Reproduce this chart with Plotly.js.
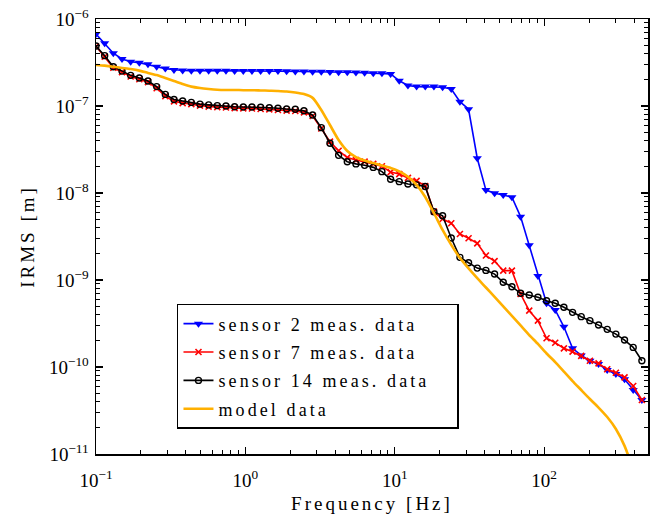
<!DOCTYPE html>
<html>
<head>
<meta charset="utf-8">
<script src="https://cdn.plot.ly/plotly-3.0.1.min.js"></script>
<style>
  html, body { margin: 0; padding: 0; background: #fff; }
  #chart { width: 667px; height: 521px; }
  .legendtext { letter-spacing: 3.1px; }
  .g-xtitle text, .g-ytitle text { letter-spacing: 3px; }
</style>
</head>
<body>
<div id="chart"></div>
<script>
// Frequencies [Hz] (log-spaced measurement points)
const freq = [0.1, 0.1143, 0.1306, 0.1493, 0.1706, 0.1950, 0.2228, 0.2547, 0.2911, 0.3327,
  0.3802, 0.4345, 0.4966, 0.5675, 0.6486, 0.7413, 0.8472, 0.9683, 1.1066, 1.2647,
  1.4454, 1.6520, 1.8880, 2.1577, 2.4660, 2.8184, 3.2211, 3.6813, 4.2073, 4.8084,
  5.4954, 6.2806, 7.1779, 8.2035, 9.3756, 10.715, 12.246, 13.996, 15.996, 18.281,
  20.893, 23.878, 27.290, 31.189, 35.645, 40.738, 46.559, 53.211, 60.814, 69.502,
  79.433, 90.782, 103.75, 118.58, 135.52, 154.88, 177.01, 202.30, 231.21, 264.24,
  302.00, 345.14, 394.46, 450.82];

const sensor2 = [6.73e-7, 5.26e-7, 4.04e-7, 3.47e-7, 3.23e-7, 3.15e-7, 3.01e-7, 2.83e-7, 2.69e-7, 2.60e-7,
  2.56e-7, 2.55e-7, 2.55e-7, 2.54e-7, 2.54e-7, 2.54e-7, 2.53e-7, 2.53e-7, 2.53e-7, 2.52e-7,
  2.52e-7, 2.52e-7, 2.51e-7, 2.50e-7, 2.50e-7, 2.48e-7, 2.48e-7, 2.46e-7, 2.45e-7, 2.44e-7,
  2.43e-7, 2.41e-7, 2.38e-7, 2.38e-7, 2.34e-7, 1.95e-7, 1.72e-7, 1.67e-7, 1.67e-7, 1.67e-7,
  1.64e-7, 1.57e-7, 1.12e-7, 9.17e-8, 2.51e-8, 1.08e-8, 9.93e-9, 9.48e-9, 8.93e-9, 5.35e-9,
  2.51e-9, 1.11e-9, 5.40e-10, 4.52e-10, 2.90e-10, 1.64e-10, 1.36e-10, 1.18e-10, 1.08e-10, 9.24e-11,
  8.31e-11, 7.22e-11, 5.44e-11, 4.18e-11];

const sensor7 = [4.85e-7, 3.70e-7, 2.75e-7, 2.45e-7, 2.18e-7, 2.03e-7, 1.88e-7, 1.60e-7, 1.30e-7, 1.13e-7,
  1.08e-7, 1.05e-7, 1.01e-7, 9.85e-8, 9.70e-8, 9.60e-8, 9.45e-8, 9.38e-8, 9.35e-8, 9.25e-8,
  9.15e-8, 9.00e-8, 8.85e-8, 8.75e-8, 8.45e-8, 7.67e-8, 5.51e-8, 3.89e-8, 3.06e-8, 2.55e-8,
  2.39e-8, 2.29e-8, 2.16e-8, 2.03e-8, 1.74e-8, 1.65e-8, 1.49e-8, 1.38e-8, 1.20e-8, 6.10e-9,
  5.02e-9, 4.49e-9, 3.38e-9, 3.02e-9, 2.64e-9, 1.91e-9, 1.65e-9, 1.28e-9, 1.28e-9, 6.90e-10,
  4.44e-10, 3.41e-10, 2.14e-10, 1.90e-10, 1.64e-10, 1.50e-10, 1.34e-10, 1.18e-10, 1.10e-10, 9.41e-11,
  8.60e-11, 7.61e-11, 6.05e-11, 4.18e-11];

const sensor14 = [4.90e-7, 3.79e-7, 2.83e-7, 2.52e-7, 2.25e-7, 2.10e-7, 1.94e-7, 1.67e-7, 1.36e-7, 1.19e-7,
  1.14e-7, 1.10e-7, 1.05e-7, 1.03e-7, 1.01e-7, 1.00e-7, 9.82e-8, 9.75e-8, 9.75e-8, 9.66e-8,
  9.56e-8, 9.41e-8, 9.24e-8, 9.17e-8, 8.83e-8, 7.88e-8, 5.64e-8, 3.73e-8, 2.71e-8, 2.29e-8,
  2.16e-8, 2.08e-8, 1.97e-8, 1.76e-8, 1.44e-8, 1.35e-8, 1.27e-8, 1.24e-8, 1.19e-8, 6.10e-9,
  5.48e-9, 3.04e-9, 1.82e-9, 1.58e-9, 1.37e-9, 1.29e-9, 1.17e-9, 9.41e-10, 8.38e-10, 7.03e-10,
  6.73e-10, 6.33e-10, 5.78e-10, 5.40e-10, 4.86e-10, 4.25e-10, 3.79e-10, 3.41e-10, 3.04e-10, 2.71e-10,
  2.39e-10, 2.04e-10, 1.68e-10, 1.18e-10];

const model = [2.96e-7, 2.91e-7, 2.83e-7, 2.74e-7, 2.66e-7, 2.55e-7, 2.40e-7, 2.27e-7, 2.10e-7, 1.94e-7,
  1.79e-7, 1.67e-7, 1.61e-7, 1.57e-7, 1.54e-7, 1.53e-7, 1.53e-7, 1.52e-7, 1.52e-7, 1.51e-7,
  1.50e-7, 1.49e-7, 1.47e-7, 1.43e-7, 1.37e-7, 1.24e-7, 9.0e-8, 6.05e-8, 4.06e-8, 3.04e-8,
  2.59e-8, 2.36e-8, 2.21e-8, 2.07e-8, 1.94e-8, 1.77e-8, 1.54e-8, 1.24e-8, 9.0e-9, 5.89e-9,
  3.76e-9, 2.53e-9, 1.79e-9, 1.36e-9, 1.05e-9, 8.20e-10, 6.38e-10, 4.96e-10, 3.86e-10, 3.00e-10,
  2.33e-10, 1.84e-10, 1.43e-10, 1.14e-10, 8.87e-11, 6.90e-11, 5.44e-11, 4.29e-11, 3.42e-11, 2.66e-11,
  1.94e-11, 1.24e-11, 6.5e-12, 2.96e-12];

const names = ['sensor 2 meas. data', 'sensor 7 meas. data', 'sensor 14 meas. data\u00A0\u00A0\u00A0', 'model data'];

const xTickVals = [0.1, 1, 10, 100];
const xTickText = ['10<sup>\u22121</sup>', '10<sup>0</sup>', '10<sup>1</sup>', '10<sup>2</sup>'];
const yTickVals = [1e-11, 1e-10, 1e-9, 1e-8, 1e-7, 1e-6];
const yTickText = ['10<sup>\u221211</sup>', '10<sup>\u221210</sup>', '10<sup>\u22129</sup>',
  '10<sup>\u22128</sup>', '10<sup>\u22127</sup>', '10<sup>\u22126</sup>'];

const FONT = 'Liberation Serif, Times New Roman, serif';

const traces = [
  { x: freq, y: sensor2, name: names[0], mode: 'lines+markers', legendgroup: 'a',
    line: { color: '#0000ff', width: 1.6 },
    marker: { symbol: 'triangle-down', size: 8, color: '#0000ff' } },
  { x: freq, y: sensor7, name: names[1], mode: 'lines+markers', legendgroup: 'b',
    line: { color: '#ff0000', width: 1.6 },
    marker: { symbol: 'x-thin', size: 6, line: { color: '#ff0000', width: 1.6 } } },
  { x: freq, y: sensor14, name: names[2], mode: 'lines+markers', legendgroup: 'c',
    line: { color: '#000000', width: 1.6 },
    marker: { symbol: 'circle-open', size: 6, color: '#000000', line: { width: 1.4 } } },
  { x: freq, y: model, name: names[3], mode: 'lines', legendgroup: 'd',
    line: { color: '#ffb000', width: 2.6, shape: 'spline', smoothing: 0.6 } }
];

const axisCommon = {
  type: 'log',
  showgrid: false,
  zeroline: false,
  showline: true,
  linecolor: '#000',
  linewidth: 1.5,
  mirror: 'ticks',
  ticks: 'inside',
  ticklen: 7,
  tickwidth: 1.2,
  tickcolor: '#000',
  tickmode: 'array',
  tickfont: { family: FONT, size: 19, color: '#000' },
  minor: { ticks: 'inside', ticklen: 4, tickwidth: 1, tickcolor: '#000', tickmode: 'linear', dtick: 'D1', showgrid: false }
};

const layout = {
  width: 667, height: 521,
  margin: { l: 96, r: 19, t: 19, b: 67 },
  paper_bgcolor: '#fff', plot_bgcolor: '#fff',
  font: { family: FONT, color: '#000' },
  xaxis: Object.assign({}, axisCommon, {
    range: [-1, 2.695],
    tickvals: xTickVals, ticktext: xTickText,
    ticklabelstandoff: 9,
    title: { text: 'Frequency [Hz]', font: { family: FONT, size: 19, color: '#000' }, standoff: 6 }
  }),
  yaxis: Object.assign({}, axisCommon, {
    range: [-11, -6],
    tickvals: yTickVals, ticktext: yTickText,
    ticklabelstandoff: 2,
    title: { text: 'IRMS [m]', font: { family: FONT, size: 19, color: '#000' }, standoff: 9 }
  }),
  showlegend: true,
  legend: {
    x: 0.1467, y: 0.345, xanchor: 'left', yanchor: 'top',
    bgcolor: '#fff', bordercolor: '#000', borderwidth: 1.5,
    font: { family: FONT, size: 18, color: '#000' },
    traceorder: 'grouped', tracegroupgap: 2,
    itemwidth: 30
  }
};

Plotly.newPlot('chart', traces, layout, { displayModeBar: false, staticPlot: true });
</script>
</body>
</html>
